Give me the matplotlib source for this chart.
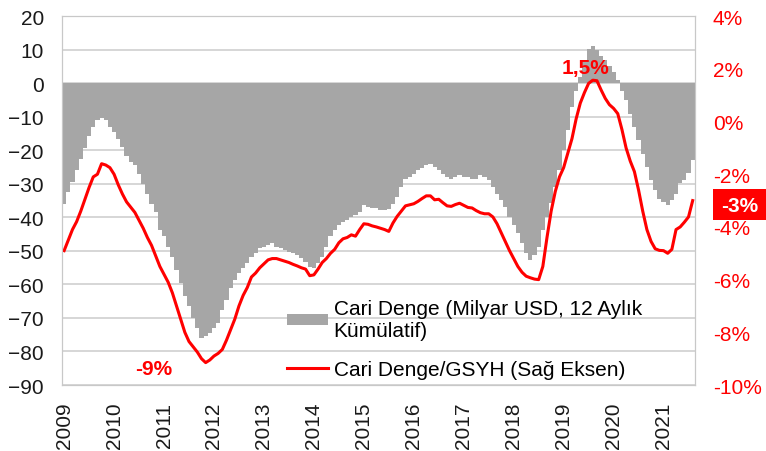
import numpy as np
import matplotlib
matplotlib.use('Agg')
import matplotlib.pyplot as plt
from matplotlib.patches import Rectangle

plt.rcParams['font.family'] = ['Liberation Sans', 'DejaVu Sans']

# years on the x axis (monthly data, Jan 2009 - Aug 2021)
years = [str(y) for y in range(2009, 2022)]

# current account, 12-month cumulative, billion USD (left axis)
cari_denge = [
    -36, -32.4, -29.4, -26, -22.5, -19.2, -15.8, -13, -11, -10.3, -11, -13,
    -14.5, -16.5, -19, -21.8, -23.5, -24.5, -27, -30, -33, -36, -38.3, -43.8,
    -45.7, -48.7, -51.7, -55.6, -59.6, -63.6, -66.5, -70, -73, -76, -75.4, -74.5,
    -73, -71.5, -67.5, -64.5, -61, -58.6, -56.6, -55, -53.7, -51.7, -50.7, -49.2,
    -48.7, -48.2, -47.7, -48.7, -49.2, -49.7, -50.2, -50.7, -51.2, -52.2, -53.2, -54.7,
    -55.1, -53.7, -51.7, -48.7, -45.7, -43.8, -42.3, -41.3, -40.8, -39.8, -39.3, -38.3,
    -36.3, -36.8, -37.3, -37.3, -37.8, -37.8, -37.5, -36, -34, -31, -28.5, -28,
    -27, -26, -25.2, -24.5, -24, -25, -26, -27, -28, -28.5, -28, -27.5,
    -28, -28, -28.5, -28.5, -27.5, -28, -28.9, -30.9, -32.9, -34.9, -36.8, -39.8,
    -42.3, -44.8, -47.7, -50.7, -52.7, -51.2, -48.7, -43.8, -39.8, -35.8, -30.9, -26,
    -20, -14, -7.1, -2.2, 1.8, 6.7, 10.2, 11.2, 10, 8.2, 7, 5.2,
    3.3, 1, -2.2, -5.1, -9.1, -13, -17, -21, -25, -28.9, -31.9, -34.4,
    -35.3, -36.3, -34.9, -32.9, -29.9, -28.9, -26.9, -23,
]

# current account / GDP, % (right axis)
cari_gsyh = [
    -4.9, -4.5, -4.1, -3.8, -3.4, -2.95, -2.5, -2.1, -2.0, -1.6, -1.65, -1.75,
    -2.0, -2.4, -2.75, -3.05, -3.25, -3.45, -3.75, -4.05, -4.4, -4.7, -5.1, -5.5,
    -5.8, -6.1, -6.5, -7.0, -7.5, -8.0, -8.35, -8.55, -8.75, -9.0, -9.15, -9.05,
    -8.9, -8.8, -8.65, -8.3, -7.9, -7.5, -7.0, -6.6, -6.3, -5.9, -5.75, -5.55,
    -5.4, -5.25, -5.2, -5.2, -5.25, -5.3, -5.35, -5.42, -5.48, -5.55, -5.6, -5.85,
    -5.82, -5.6, -5.35, -5.2, -5.0, -4.85, -4.6, -4.45, -4.4, -4.3, -4.35, -4.1,
    -3.88, -3.9, -3.96, -4.0, -4.05, -4.1, -4.17, -3.85, -3.6, -3.4, -3.2, -3.16,
    -3.12, -3.03, -2.92, -2.82, -2.82, -2.97, -2.95, -3.08, -3.2, -3.22, -3.15, -3.1,
    -3.18, -3.26, -3.28, -3.38, -3.46, -3.5, -3.5, -3.62, -3.88, -4.22, -4.55, -4.9,
    -5.2, -5.5, -5.72, -5.87, -5.93, -5.98, -6.0, -5.5, -4.4, -3.4, -2.65, -2.1,
    -1.75, -1.2, -0.65, 0.1, 0.7, 1.1, 1.45, 1.57, 1.55, 1.2, 0.88, 0.64,
    0.5, 0.3, -0.3, -1.0, -1.5, -1.9, -2.6, -3.4, -4.1, -4.55, -4.83, -4.89,
    -4.9, -5.0, -4.85, -4.1, -4.0, -3.82, -3.62, -3.0,
]

x = np.arange(len(cari_denge))

fig = plt.figure(figsize=(7.66, 4.52), dpi=100)
ax = fig.add_axes([0.081, 0.146, 0.826, 0.816])
ax2 = ax.twinx()

bars = ax.bar(x, cari_denge, width=1.0, color='#A6A6A6', linewidth=0,
              label='Cari Denge (Milyar USD, 12 Aylık\nKümülatif)')
line, = ax2.plot(x, cari_gsyh, color='#FF0000', lw=2.2,
                 label='Cari Denge/GSYH (Sağ Eksen)')

ax.set_xlim(-0.5, len(x) - 0.5)
ax.set_ylim(-90, 20)
ax.set_yticks(np.arange(-90, 21, 10))
ax2.set_ylim(-10, 4)
ax2.set_yticks(np.arange(-10, 5, 2))
ax2.set_yticklabels([f'{v}%' for v in range(-10, 5, 2)])

ax.set_xticks(np.arange(0, len(x), 12))
ax.set_xticklabels(years, rotation=90)

ax.set_axisbelow(True)
ax.yaxis.grid(True, color='#D0D0D0', lw=1.2)
for a in (ax, ax2):
    for s in a.spines.values():
        s.set_color('#C8C8C8')
ax.tick_params(axis='y', length=0, labelsize=15, colors='#1a1a1a', pad=13)
ax.tick_params(axis='x', length=0, labelsize=15, colors='#1a1a1a', pad=12)
ax2.tick_params(axis='y', length=0, labelsize=15, colors='#FF0000', pad=13)

# annotations
ax.text(125.3, 4.7, '1,5%', color='#FF0000', fontsize=15, fontweight='bold',
        ha='center', va='center')
ax.text(21.4, -85, '-9%', color='#FF0000', fontsize=15, fontweight='bold',
        ha='center', va='center')
fig.patches.append(Rectangle((713 / 766, 1 - 221 / 452), 53 / 766, 31 / 452,
                             transform=fig.transFigure, fc='#FF0000', ec='none',
                             zorder=5))
fig.text(740 / 766, 1 - 207 / 452, '-3%', color='white', fontsize=15,
         fontweight='bold', ha='center', va='center', zorder=6)

ax2.legend(handles=[bars, line], loc='upper left', bbox_to_anchor=(0.355, 0.233),
           frameon=False, fontsize=15, handlelength=2.0, handleheight=0.45,
           handletextpad=0.25, labelspacing=0.95, borderaxespad=0, borderpad=0)

fig.savefig('out.png', dpi=100)
